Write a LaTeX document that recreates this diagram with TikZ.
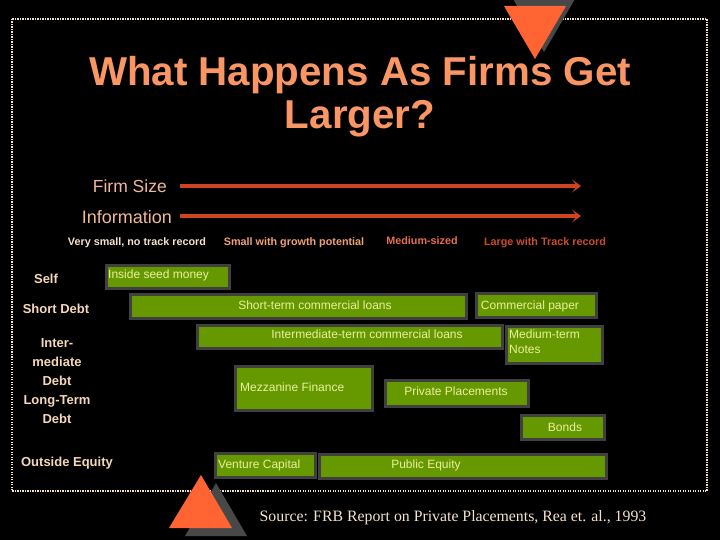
\documentclass[tikz,border=0pt]{standalone}
\usepackage{fontspec}
\setmainfont{Liberation Sans}
\newfontfamily\srcfont{Liberation Serif}
\usetikzlibrary{arrows.meta}
\definecolor{titlec}{RGB}{250,150,100}
\definecolor{cream}{RGB}{245,222,200}
\definecolor{peachc}{RGB}{240,185,150}
\definecolor{arrowc}{RGB}{204,68,34}
\definecolor{labA}{RGB}{245,225,205}
\definecolor{labB}{RGB}{240,160,120}
\definecolor{labC}{RGB}{230,110,80}
\definecolor{labD}{RGB}{205,75,45}
\definecolor{leftc}{RGB}{245,215,185}
\definecolor{gfill}{RGB}{102,153,0}
\definecolor{gborder}{RGB}{64,64,64}
\definecolor{gtextc}{RGB}{235,240,160}
\definecolor{orangetri}{RGB}{255,100,50}
\definecolor{graytri}{RGB}{72,72,72}
\begin{document}
\begin{tikzpicture}[x=1pt,y=-1pt,
  gbox/.style={draw=gborder,line width=3pt,fill=gfill,inner sep=0pt,anchor=north west},
  gtext/.style={text=gtextc,font=\fontsize{12}{15}\selectfont,inner sep=0pt,anchor=base},
  leftlab/.style={text=leftc,font=\fontsize{13}{18.8}\selectfont\bfseries,inner sep=0pt,align=center},
  toplab/.style={font=\fontsize{10.8}{12}\selectfont\bfseries,inner sep=0pt,anchor=base},
  bigarrow/.style={draw=arrowc,line width=3.2pt,-{Stealth[length=9pt,width=13pt,inset=5pt]}},
  frame/.style={draw=cream,line width=1.5pt,dash pattern=on 1.2pt off 1.3pt}]
\useasboundingbox (0,0) rectangle (720,540);
\fill[black] (0,0) rectangle (720,540);
% dotted frame
\draw[frame] (12,19) rectangle (707,491);
% triangles
\fill[graytri] (513,-1) -- (575,-1) -- (544,52) -- cycle;
\fill[orangetri] (504,6) -- (566,6) -- (535,59) -- cycle;
\fill[graytri] (216,483) -- (185,536) -- (247,536) -- cycle;
\fill[orangetri] (201,475) -- (169,528) -- (232,528) -- cycle;
% title
\node[text=titlec,font=\fontsize{40.3}{44}\selectfont\bfseries,inner sep=0pt,anchor=base] (t1) at (360,86) {What Happens As Firms Get};
\node[text=titlec,font=\fontsize{40.3}{44}\selectfont\bfseries,inner sep=0pt,anchor=base] (t2) at (360,129) {Larger?};
% axes
\node[text=peachc,font=\fontsize{17.5}{18}\selectfont,anchor=base east,inner sep=0pt] (fs) at (167,193) {Firm Size};
\node[text=peachc,font=\fontsize{18}{18}\selectfont,anchor=base east,inner sep=0pt] (inf) at (172,224) {Information};
\coordinate (fsa) at (180,186);
\coordinate (fsb) at (581,186);
\coordinate (ina) at (180,216);
\coordinate (inb) at (581,216);
\draw[bigarrow] (fsa) -- (fsb);
\draw[bigarrow] (ina) -- (inb);
% stage labels
\node[toplab,text=labA] (l1) at (137,245) {Very small, no track record};
\node[toplab,text=labB] (l2) at (294,245) {Small with growth potential};
\node[toplab,text=labC] (l3) at (422,244) {Medium-sized};
\node[toplab,text=labD] (l4) at (545,245) {Large with Track record};
% left labels
\node[leftlab] (self) at (46,279) {Self};
\node[leftlab] (sdebt) at (56,309) {Short Debt};
\node[leftlab] (imdebt) at (57,381) {Inter-\\mediate\\Debt\\Long-Term\\Debt};
\node[leftlab] (oeq) at (67,463) {Outside Equity};
% boxes
\node[gbox,minimum width=123pt,minimum height=23pt] (seed) at (104.5,263.5) {};
\node[gtext,anchor=base west] (seedt) at (108,278) {Inside seed money};
\node[gbox,minimum width=336pt,minimum height=24pt] (short) at (128.5,292.5) {};
\node[gtext] (shortt) at (315,309.5) {Short-term commercial loans};
\node[gbox,minimum width=120pt,minimum height=24pt] (paper) at (474.5,291.5) {};
\node[gtext] (papert) at (530,309.5) {Commercial paper};
\node[gbox,minimum width=305pt,minimum height=23pt] (inter) at (195.5,323.5) {};
\node[gtext] (intert) at (367,338) {Intermediate-term commercial loans};
\node[gbox,minimum width=96pt,minimum height=37pt] (notes) at (504.5,324.5) {};
\node[gtext,anchor=base west] (notest1) at (509,338.5) {Medium-term};
\node[gtext,anchor=base west] (notest2) at (509,353.5) {Notes};
\node[gbox,minimum width=137pt,minimum height=44pt] (mezz) at (233.5,364.5) {};
\node[gtext,anchor=base west] (mezzt) at (240,391) {Mezzanine Finance};
\node[gbox,minimum width=143pt,minimum height=26pt] (priv) at (383.5,378.5) {};
\node[gtext] (privt) at (456,395.5) {Private Placements};
\node[gbox,minimum width=83pt,minimum height=24pt] (bonds) at (519.5,413.5) {};
\node[gtext] (bondst) at (565,431.5) {Bonds};
\node[gbox,minimum width=100pt,minimum height=24pt] (vc) at (213.5,451.5) {};
\node[gtext,anchor=base west] (vct) at (218,468.5) {Venture Capital};
\node[gbox,minimum width=287pt,minimum height=24pt] (pe) at (317.5,452.5) {};
\node[gtext] (pet) at (426,468.5) {Public Equity};
% source
\node[text=labA,font=\srcfont\fontsize{15.8}{17}\selectfont,inner sep=0pt,anchor=base] (src) at (453,521) {Source: FRB Report on Private Placements, Rea et. al., 1993};
\end{tikzpicture}
\end{document}
